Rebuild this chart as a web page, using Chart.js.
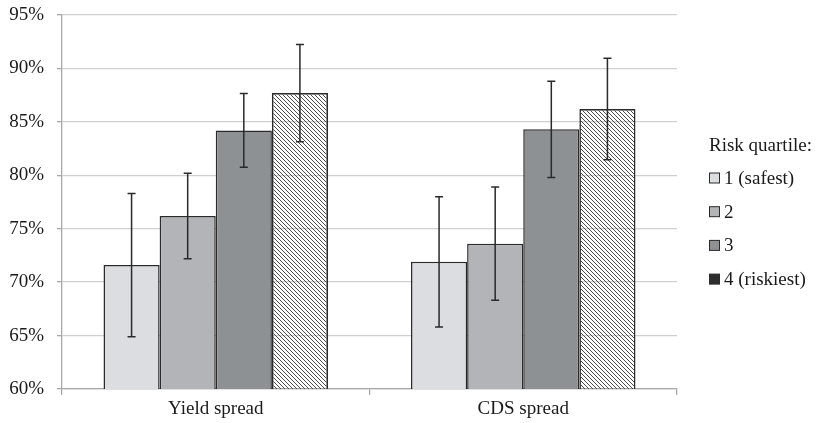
<!DOCTYPE html>
<html>
<head>
<meta charset="utf-8">
<script src="https://cdn.jsdelivr.net/npm/chart.js@4"></script>
<style>
  html, body { margin: 0; padding: 0; background: #fff; }
  #wrap { width: 817px; height: 423px; position: relative; }
</style>
</head>
<body>
<div id="wrap"><canvas id="spreadChart" width="817" height="423"></canvas></div>
<script>
// data
const categories = ['Yield spread', 'CDS spread'];
const quartileLabels = ['1 (safest)', '2', '3', '4 (riskiest)'];
const q1Values = [71.6, 71.9];
const q2Values = [76.2, 73.6];
const q3Values = [84.2, 84.3];
const q4Values = [87.7, 86.2];
const q1Errors = [6.7, 6.1];
const q2Errors = [4.0, 5.3];
const q3Errors = [3.45, 4.5];
const q4Errors = [4.55, 4.75];
const yTicks = [60, 65, 70, 75, 80, 85, 90, 95];

const FONT = 'Liberation Serif';
const fillColors = ['#dcdde0', '#b3b4b7', '#8e9194'];
const legendColors = ['#dcdde0', '#b3b4b7', '#8e9194', '#2e2e2e'];

function makeHatch() {
    // "\" stripes on a see-through background
    const c = document.createElement('canvas');
    c.width = 4;
    c.height = 4;
    const g = c.getContext('2d');
    g.strokeStyle = '#3a3a3a';
    g.lineWidth = 0.9;
    g.beginPath();
    g.moveTo(-1, -1); g.lineTo(5, 5);
    g.moveTo(3, -1); g.lineTo(5, 1);
    g.moveTo(-1, 3); g.lineTo(1, 5);
    g.stroke();
    return g.createPattern(c, 'repeat');
}

const errorBars = {
    id: 'errorBars',
    afterDatasetsDraw(chart) {
        const ctx = chart.ctx;
        const y = chart.scales.y;
        ctx.save();
        ctx.strokeStyle = '#2a2a2a';
        ctx.lineWidth = 1.5;
        chart.data.datasets.forEach(function (ds, i) {
            const meta = chart.getDatasetMeta(i);
            meta.data.forEach(function (bar, j) {
                const v = ds.data[j];
                const e = ds.errors[j];
                const top = y.getPixelForValue(v + e);
                const bot = y.getPixelForValue(v - e);
                ctx.beginPath();
                ctx.moveTo(bar.x, top); ctx.lineTo(bar.x, bot);
                ctx.moveTo(bar.x - 4, top); ctx.lineTo(bar.x + 4, top);
                ctx.moveTo(bar.x - 4, bot); ctx.lineTo(bar.x + 4, bot);
                ctx.stroke();
            });
        });
        ctx.restore();
    }
};

const sideLegend = {
    id: 'sideLegend',
    afterDraw(chart) {
        const ctx = chart.ctx;
        ctx.save();
        ctx.font = '19px "' + FONT + '"';
        ctx.fillStyle = '#1a1a1a';
        ctx.textBaseline = 'middle';
        ctx.textAlign = 'left';
        ctx.fillText('Risk quartile:', 709, 146);
        quartileLabels.forEach(function (lab, i) {
            const cy = 178 + i * 33.7;
            ctx.fillStyle = legendColors[i];
            ctx.fillRect(709.5, cy - 5, 10, 10);
            ctx.strokeStyle = '#2a2a2a';
            ctx.lineWidth = 1;
            ctx.strokeRect(709.5, cy - 5, 10, 10);
            ctx.fillStyle = '#1a1a1a';
            ctx.fillText(lab, 724, cy + 1);
        });
        ctx.restore();
    }
};

const values = [q1Values, q2Values, q3Values, q4Values];
const errors = [q1Errors, q2Errors, q3Errors, q4Errors];

const datasets = quartileLabels.map(function (lab, i) {
    return {
        label: lab,
        data: values[i],
        errors: errors[i],
        backgroundColor: i < 3 ? fillColors[i] : makeHatch(),
        borderColor: '#2a2a2a',
        borderWidth: 1.5,
        categoryPercentage: 0.73,
        barPercentage: 1.0
    };
});

new Chart(document.getElementById('spreadChart').getContext('2d'), {
    type: 'bar',
    data: { labels: categories, datasets: datasets },
    options: {
        responsive: false,
        animation: false,
        layout: { padding: { top: 15, right: 140, bottom: 0, left: 0 } },
        plugins: {
            legend: { display: false },
            tooltip: { enabled: false }
        },
        scales: {
            x: {
                afterFit: function (s) { s.height = 34; },
                grid: {
                    offset: true,
                    drawOnChartArea: false,
                    drawTicks: true,
                    tickLength: 6,
                    tickColor: '#a8a8a8',
                    lineWidth: 1.3
                },
                border: { color: '#a8a8a8', width: 1.3 },
                ticks: {
                    font: { family: FONT, size: 19 },
                    color: '#1a1a1a',
                    padding: 3
                }
            },
            y: {
                min: 60,
                max: 95,
                afterFit: function (s) {
                    s.width = 62;
                    s.paddingTop = 0;
                    s.paddingBottom = 0;
                },
                afterBuildTicks: function (s) {
                    s.ticks = yTicks.map(function (v) { return { value: v }; });
                },
                grid: {
                    color: '#d0d0d0',
                    lineWidth: 1.3,
                    tickLength: 5,
                    tickColor: '#a8a8a8'
                },
                border: { color: '#a8a8a8', width: 1.3 },
                ticks: {
                    font: { family: FONT, size: 19 },
                    color: '#1a1a1a',
                    padding: 13,
                    callback: function (v) { return v + '%'; }
                }
            }
        }
    },
    plugins: [errorBars, sideLegend]
});
</script>
</body>
</html>
